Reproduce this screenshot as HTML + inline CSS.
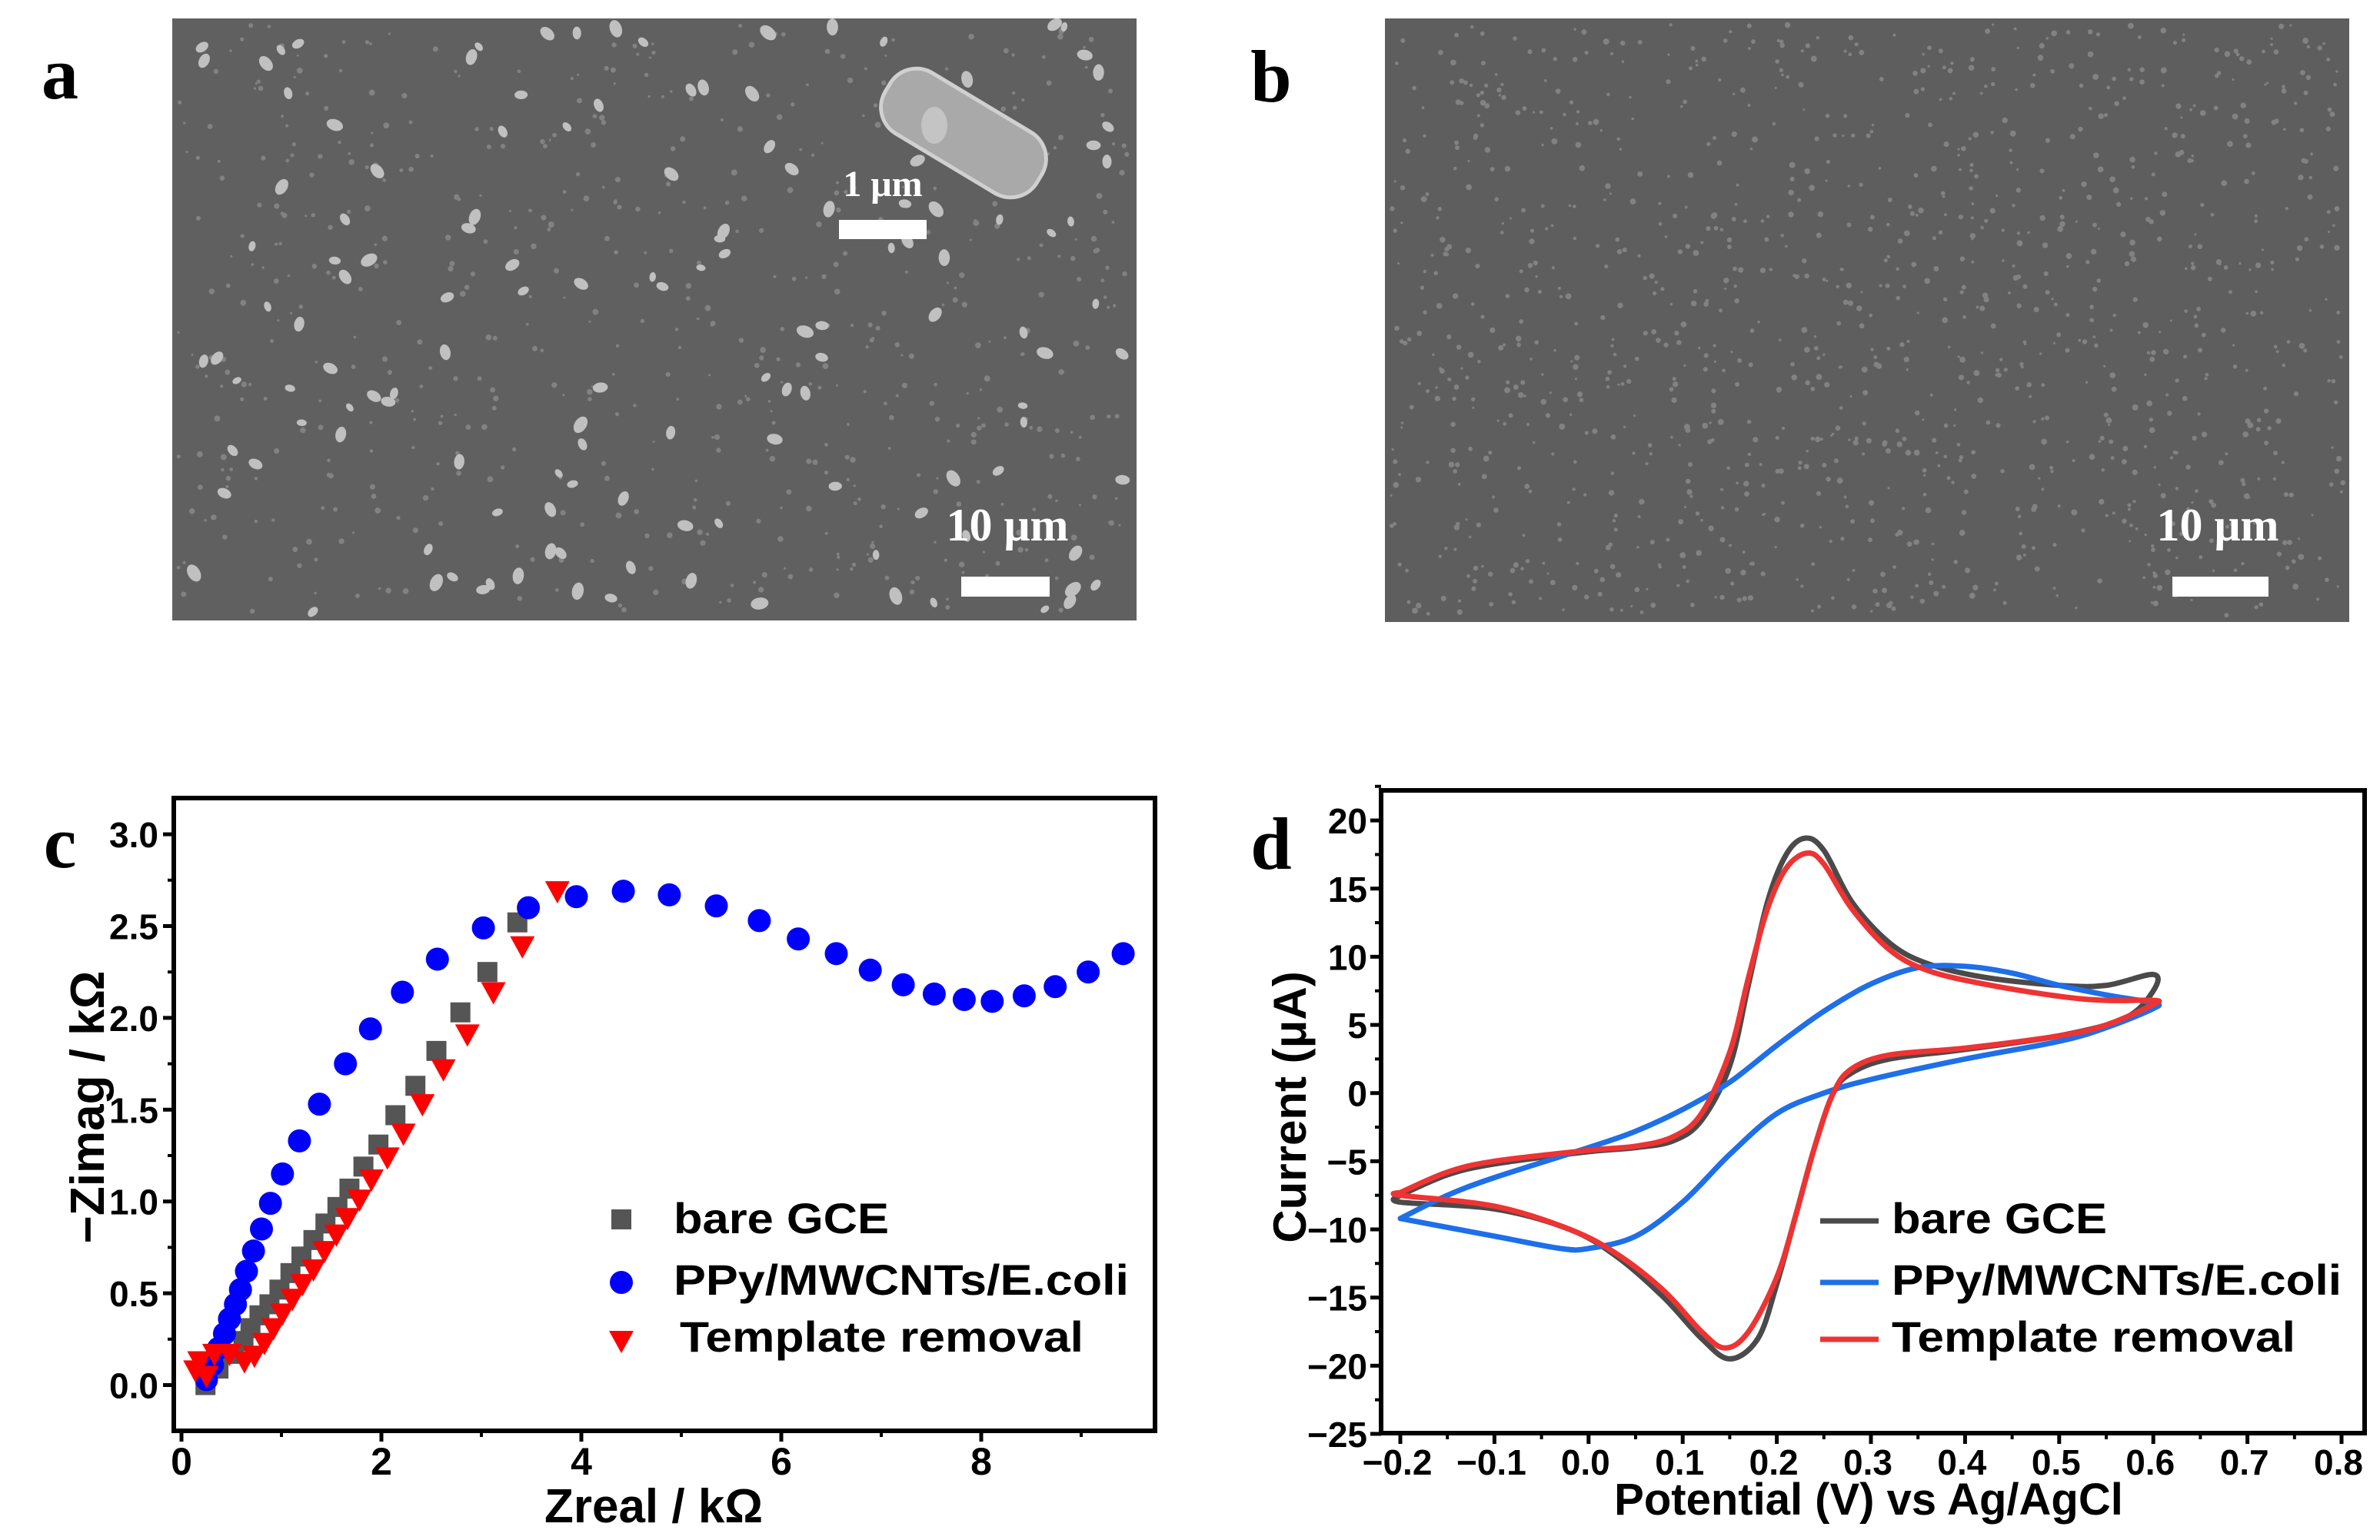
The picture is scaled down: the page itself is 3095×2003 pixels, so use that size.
<!DOCTYPE html>
<html><head><meta charset="utf-8"><style>
html,body{margin:0;padding:0;background:#fff;}
svg{display:block;font-family:"Liberation Sans",Arial,sans-serif;}
</style></head><body>
<svg id="fig" width="3095" height="2003" viewBox="0 0 3095 2003" xmlns="http://www.w3.org/2000/svg">
<rect x="0" y="0" width="3095" height="2003" fill="#fff"/>
<g id="semA">
  <rect x="224" y="24" width="1254" height="783" fill="#606060"/>
</g>
<g id="semB">
  <rect x="1801" y="24" width="1254" height="785" fill="#5e5e5e"/>
</g>
<g>
  <rect x="1138" y="127" width="230" height="92" rx="40" fill="#a9a9a9" stroke="#d0d0d0" stroke-width="5" transform="rotate(31 1253 173)"/>
  <ellipse cx="1215" cy="163" rx="17" ry="24" fill="#c4c4c4"/>
</g>
<text x="1148" y="255" font-family="Liberation Serif,serif" font-weight="bold" font-size="48" fill="#fff" text-anchor="middle">1 μm</text>
<rect x="1091" y="286" width="114" height="25" fill="#fff"/>
<text x="1310" y="703" font-family="Liberation Serif,serif" font-weight="bold" font-size="60" fill="#fff" text-anchor="middle">10 μm</text>
<rect x="1250" y="750" width="115" height="26" fill="#fff"/>
<text x="2884" y="703" font-family="Liberation Serif,serif" font-weight="bold" font-size="60" fill="#fff" text-anchor="middle">10 μm</text>
<rect x="2825" y="750" width="125" height="26" fill="#fff"/>
<text x="78" y="128" font-family="Liberation Serif,serif" font-weight="bold" font-size="96" text-anchor="middle">a</text>
<text x="1653" y="132" font-family="Liberation Serif,serif" font-weight="bold" font-size="96" text-anchor="middle">b</text>
<text x="78" y="1128" font-family="Liberation Serif,serif" font-weight="bold" font-size="96" text-anchor="middle">c</text>
<text x="1653" y="1130" font-family="Liberation Serif,serif" font-weight="bold" font-size="96" text-anchor="middle">d</text>
<g id="chartC"></g>
<g id="chartD"></g>
</svg>
<script>
// ---- Panel c data (Nyquist) ----
const bareX=[0.24,0.37,0.52,0.62,0.69,0.78,0.88,0.98,1.09,1.2,1.32,1.44,1.56,1.68,1.82,1.97,2.14,2.34,2.55,2.79,3.06,3.36];
const bareY=[0.0,0.09,0.17,0.24,0.31,0.38,0.44,0.52,0.61,0.70,0.79,0.88,0.97,1.07,1.19,1.31,1.47,1.63,1.82,2.03,2.25,2.52];
const ppyX=[0.25,0.31,0.37,0.43,0.48,0.54,0.59,0.65,0.72,0.80,0.89,1.01,1.18,1.38,1.64,1.89,2.21,2.56,3.02,3.47,3.95,4.42,4.88,5.35,5.78,6.17,6.55,6.89,7.22,7.53,7.83,8.11,8.43,8.74,9.07,9.42];
const ppyY=[0.03,0.11,0.20,0.28,0.36,0.44,0.52,0.62,0.73,0.85,0.99,1.15,1.33,1.53,1.75,1.94,2.14,2.32,2.49,2.60,2.66,2.69,2.67,2.61,2.53,2.43,2.35,2.26,2.18,2.13,2.10,2.09,2.12,2.17,2.25,2.35];
const tplX=[0.14,0.18,0.25,0.33,0.48,0.63,0.73,0.83,0.92,1.01,1.11,1.21,1.32,1.43,1.55,1.66,1.78,1.90,2.06,2.22,2.41,2.62,2.86,3.12,3.41,3.76];
const tplY=[0.08,0.13,0.05,0.17,0.17,0.13,0.16,0.23,0.31,0.39,0.47,0.55,0.63,0.73,0.82,0.91,1.01,1.12,1.24,1.37,1.53,1.72,1.91,2.14,2.39,2.69];
const cXTicks=[0,2,4,6,8];
const cYTicks=[0.0,0.5,1.0,1.5,2.0,2.5,3.0];
// ---- Panel d data (CV) ----
const bareV=[-0.2,-0.15,-0.1,0,0.05,0.09,0.12,0.15,0.17,0.19,0.21,0.23,0.25,0.28,0.32,0.36,0.42,0.5,0.55,0.6,0.6,0.57,0.5,0.4,0.32,0.28,0.26,0.24,0.22,0.2,0.18,0.15,0.12,0.08,0.03,-0.02,-0.1,-0.2,-0.2];
const bareI=[-7.5,-6,-5.2,-4.3,-4.0,-3.5,-2,2,8,14,17.5,18.7,17.8,14,11,9.5,8.5,7.9,7.9,8.7,7.5,5.5,4.2,3.2,2.5,1.5,0,-4,-9,-14,-18,-19.5,-18,-15,-12,-10,-8.5,-8,-7.5];
const ppyV=[-0.2,-0.15,-0.1,0,0.05,0.1,0.15,0.2,0.25,0.3,0.35,0.4,0.45,0.5,0.55,0.6,0.6,0.55,0.5,0.4,0.3,0.25,0.2,0.15,0.1,0.05,0,-0.03,-0.1,-0.2];
const ppyI=[-9.2,-7.5,-6.2,-4,-2.8,-1.2,0.8,3.5,6,8,9.2,9.3,8.8,7.9,7.2,6.6,6.2,4.8,3.8,2.5,1,0,-1.5,-4.5,-8,-10.5,-11.4,-11.4,-10.5,-9.2];
const tplV=[-0.2,-0.15,-0.1,0,0.05,0.09,0.12,0.15,0.17,0.19,0.21,0.232,0.25,0.28,0.32,0.36,0.42,0.5,0.55,0.6,0.6,0.55,0.5,0.4,0.32,0.28,0.26,0.24,0.22,0.2,0.17,0.145,0.12,0.08,0.03,-0.02,-0.1,-0.2,-0.2];
const tplI=[-7.3,-5.8,-5,-4.2,-3.9,-3.2,-1.5,3,8.5,13.5,16.5,17.6,16.8,13.5,10.5,9,8,7.1,6.8,6.8,6.5,5,4.2,3.3,2.8,1.8,0,-4,-9,-13.5,-17.5,-18.7,-17.5,-14.5,-11.8,-10,-8.3,-7.5,-7.3];
const dXTicks=[-0.2,-0.1,0.0,0.1,0.2,0.3,0.4,0.5,0.6,0.7,0.8];
const dYTicks=[-25,-20,-15,-10,-5,0,5,10,15,20];

const NS='http://www.w3.org/2000/svg';
function mk(tag,attrs,parent,txt){const e=document.createElementNS(NS,tag);for(const k in attrs)e.setAttribute(k,attrs[k]);if(txt!==undefined)e.textContent=txt;parent.appendChild(e);return e;}

// SEM decoration (deterministic)
let seed=7;function rnd(){seed=(seed*16807)%2147483647;return seed/2147483647;}
function speckle(g,x0,y0,w,h,n,big){
  for(let i=0;i<n;i++){const x=x0+8+rnd()*(w-16),y=y0+8+rnd()*(h-16);
    const r=big?(4+rnd()*4):(1.5+rnd()*2.5);const a=rnd()*180;
    const e=mk('ellipse',{cx:x,cy:y,rx:big?r*1.5:r,ry:r,fill:big?'#c0c0c0':'#828282',transform:'rotate('+a+' '+x+' '+y+')'},g);
    
    }
}
speckle(document.getElementById('semA'),224,24,1254,783,600,false);
speckle(document.getElementById('semA'),224,24,1254,783,140,true);
speckle(document.getElementById('semB'),1801,24,1254,785,1200,false);

// ---- Chart C ----
(function(){
  const g=document.getElementById('chartC');
  const L=226,R=1502,T=1038,B=1861;
  const sx=v=>236+v*130, sy=v=>1801.5-v*238.8;
  mk('rect',{x:L,y:T,width:R-L,height:B-T,fill:'none',stroke:'#000','stroke-width':6},g);
  cXTicks.forEach(t=>{const x=sx(t);
    mk('line',{x1:x,y1:B,x2:x,y2:B+14,stroke:'#000','stroke-width':5},g);
    const tx=mk('text',{x:x,y:1918,'font-size':50,'font-weight':'bold','text-anchor':'middle'},g,String(t));
    
    
    mk('line',{x1:sx(t+1),y1:B,x2:sx(t+1),y2:B+8,stroke:'#000','stroke-width':4},g);});
  cYTicks.forEach(t=>{const y=sy(t);
    mk('line',{x1:L,y1:y,x2:L-14,y2:y,stroke:'#000','stroke-width':5},g);
    if(t<3) mk('line',{x1:L,y1:sy(t+0.25),x2:L-8,y2:sy(t+0.25),stroke:'#000','stroke-width':4},g);
    const tx=mk('text',{x:206,y:y+17,'font-size':46,'font-weight':'bold','text-anchor':'end'},g,t.toFixed(1));
    
    });
  const xt=mk('text',{x:850,y:1980,'font-size':62,'font-weight':'bold','text-anchor':'middle'},g,'Zreal / kΩ');
  
  
  const yt=mk('text',{x:0,y:0,'font-size':62,'font-weight':'bold','text-anchor':'middle',transform:'translate(135 1440) rotate(-90)'},g,'−Zimag / kΩ');
  
  
  function sq(x,y){return mk('rect',{x:x-13,y:y-13,width:26,height:26,fill:'#555'},g);}
  function ci(x,y){return mk('circle',{cx:x,cy:y,r:15,fill:'#0000ff'},g);}
  function tri(x,y){return mk('polygon',{points:(x-16)+','+(y-13)+' '+(x+16)+','+(y-13)+' '+x+','+(y+16),fill:'#ff0000'},g);}
  bareX.forEach((v,i)=>{const e=sq(sx(v),sy(bareY[i]));});
  ppyX.forEach((v,i)=>{const e=ci(sx(v),sy(ppyY[i]));});
  tplX.forEach((v,i)=>{const e=tri(sx(v),sy(tplY[i]));});
  const lg=[['bare GCE',1604],['PPy/MWCNTs/E.coli',1684],['Template removal',1758]];
  let m=sq(808,1604-18);
  m=ci(808,1686-18);
  m=tri(808,1762-18);
  lg.forEach((l,i)=>{const t=mk('text',{x:i==2?884:876,y:l[1],'font-size':56,'font-weight':'bold',textLength:i==0?280:(i==1?592:525),lengthAdjust:'spacingAndGlyphs'},g,l[0]);
    
    });
})();

// ---- Chart D ----
(function(){
  const g=document.getElementById('chartD');
  const L=1796,R=3075,T=1028,B=1864;
  const sx=v=>1821+(v+0.2)*1224, sy=v=>1421.7-v*17.73;
  mk('rect',{x:L,y:T,width:R-L,height:B-T,fill:'none',stroke:'#000','stroke-width':6},g);
  dXTicks.forEach(t=>{const x=sx(t);
    mk('line',{x1:x,y1:B,x2:x,y2:B+14,stroke:'#000','stroke-width':5},g);
    if(t<0.8) mk('line',{x1:sx(t+0.05),y1:B,x2:sx(t+0.05),y2:B+8,stroke:'#000','stroke-width':4},g);
    const tx=mk('text',{x:x-4,y:1918,'font-size':46,'font-weight':'bold','text-anchor':'middle'},g,(t<0?'−':'')+Math.abs(t).toFixed(1));
    
    });
  dYTicks.forEach(t=>{const y=sy(t);
    mk('line',{x1:L,y1:y,x2:L-14,y2:y,stroke:'#000','stroke-width':5},g);
    mk('line',{x1:L,y1:sy(t+2.5),x2:L-8,y2:sy(t+2.5),stroke:'#000','stroke-width':4},g);
    const tx=mk('text',{x:1778,y:y+17,'font-size':46,'font-weight':'bold','text-anchor':'end'},g,(t<0?'−':'')+Math.abs(t));
    
    });
  const xt=mk('text',{x:2430,y:1970,'font-size':58,'font-weight':'bold','text-anchor':'middle'},g,'Potential (V) vs Ag/AgCl');
  
  
  const yt=mk('text',{x:0,y:0,'font-size':60,'font-weight':'bold','text-anchor':'middle',transform:'translate(1698 1440) rotate(-90)'},g,'Current (μA)');
  
  
  function smooth(pts){let d='M'+pts[0][0]+','+pts[0][1];
    for(let i=0;i<pts.length-1;i++){const p0=pts[Math.max(0,i-1)],p1=pts[i],p2=pts[i+1],p3=pts[Math.min(pts.length-1,i+2)];
      const c1=[p1[0]+(p2[0]-p0[0])/6,p1[1]+(p2[1]-p0[1])/6],c2=[p2[0]-(p3[0]-p1[0])/6,p2[1]-(p3[1]-p1[1])/6];
      d+=' C'+c1[0]+','+c1[1]+' '+c2[0]+','+c2[1]+' '+p2[0]+','+p2[1];}
    return d;}
  function line(V,I,c,name){const p=mk('path',{d:smooth(V.map((v,i)=>[sx(v),sy(I[i])])),fill:'none',stroke:c,'stroke-width':7,'stroke-linejoin':'round','stroke-linecap':'round'},g);
    
    }
  line(bareV,bareI,'#4a4a4a','bare-gce-curve');
  line(ppyV,ppyI,'#1e6fe8','ppy-curve');
  line(tplV,tplI,'#ee3333','template-removal-curve');
  const lg=[['bare GCE',1604,'#4a4a4a'],['PPy/MWCNTs/E.coli',1684,'#1e6fe8'],['Template removal',1758,'#ee3333']];
  lg.forEach((l,i)=>{const ln=mk('line',{x1:2367,y1:l[1]-16,x2:2443,y2:l[1]-16,stroke:l[2],'stroke-width':7},g);
    
    
    const t=mk('text',{x:2460,y:l[1],'font-size':56,'font-weight':'bold',textLength:i==0?280:(i==1?585:525),lengthAdjust:'spacingAndGlyphs'},g,l[0]);
    
    });
})();
</script>
</body></html>
